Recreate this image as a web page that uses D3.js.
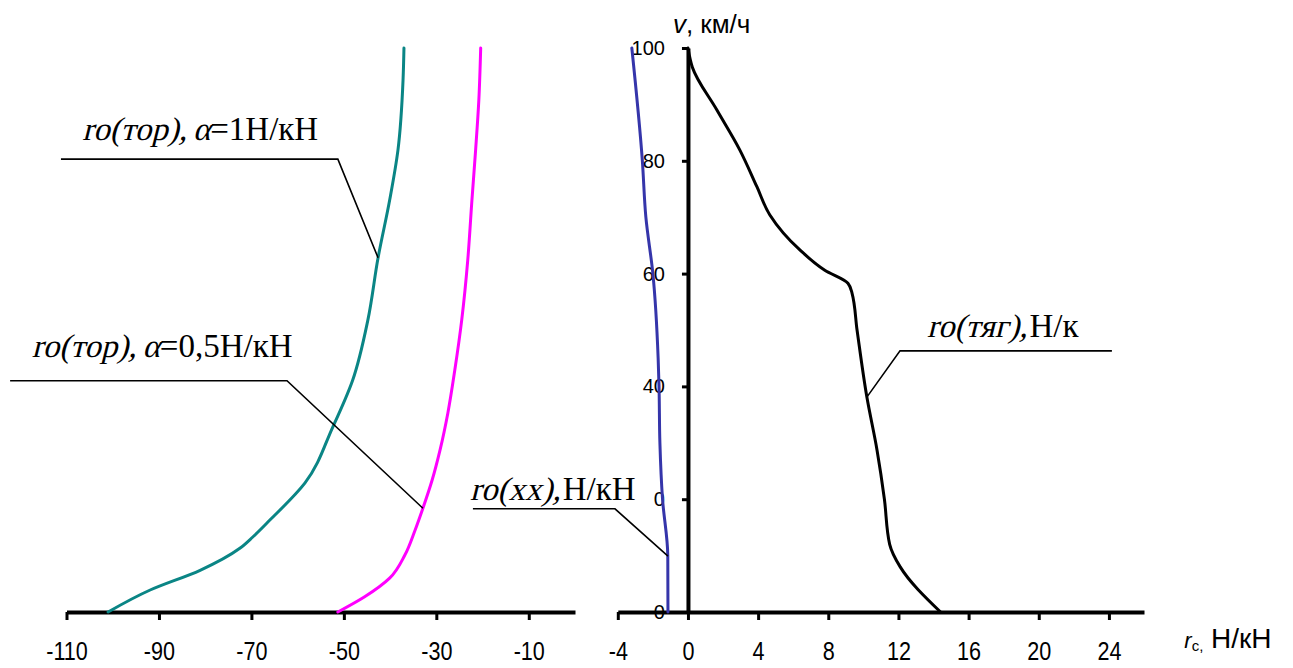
<!DOCTYPE html>
<html><head><meta charset="utf-8">
<script src="https://cdn.jsdelivr.net/npm/d3@7/dist/d3.min.js"></script>
<style>
html,body{margin:0;padding:0;background:#fff;}
svg{display:block;}
</style></head>
<body>
<svg id="chart" width="1293" height="668"></svg>
<script>
// ---------- data ----------
const leftTicks = [-110, -90, -70, -50, -30, -10];
const rightTicks = [-4, 0, 4, 8, 12, 16, 20, 24];
const yTicks = [0, 20, 40, 60, 80, 100];
const yTickLabels = ["0", "0", "40", "60", "80", "100"];

// ro(тор), α=1 Н/кН  (teal)
const torA1Speed = [0, 3.9, 7.4, 11.3, 13.3, 16.3, 22.9, 32.8, 41.1, 51.8, 62.8, 73, 81.9, 94.3, 100];
const torA1R     = [-101, -91.9, -81.1, -72.5, -69.7, -66.0, -58.4, -52.4, -48.1, -44.8, -42.6, -40.1, -38.3, -37.2, -37.0];

// ro(тор), α=0,5 Н/кН  (magenta)
const torA05Speed = [0, 2.7, 6.0, 10.1, 14.5, 18.4, 23.4, 28.7, 35.3, 42.9, 51.8, 62.4, 73, 81.9, 90.8, 100];
const torA05R     = [-51.3, -45.5, -40.1, -36.8, -34.6, -32.9, -30.9, -29.2, -27.5, -26.0, -24.5, -23.2, -22.3, -21.5, -20.8, -20.4];

// ro(xx), Н/кН  (blue)
const xxSpeed = [0, 10, 20, 30, 40, 45, 60, 70, 80, 100];
const xxR     = [-1.14, -1.15, -1.45, -1.6, -1.65, -1.7, -2.0, -2.4, -2.6, -3.2];

// ro(тяг), Н/кН  (black)
const tyagSpeed = [0, 8, 12, 20, 28.7, 38.1, 50, 56.6, 58.3, 60.6, 64.2, 70.4, 75.4, 81.9, 89.0, 96.6, 100];
const tyagR     = [14.4, 12.1, 11.5, 11.2, 10.78, 10.2, 9.64, 9.35, 9.12, 7.8, 6.38, 4.67, 3.93, 2.96, 1.65, 0.25, 0];

// ---------- layout ----------
const svg = d3.select("#chart");
const xLeft = d3.scaleLinear().domain([-110, 0]).range([66.5, 575]);
const xRight = d3.scaleLinear().domain([-4, 26]).range([617.8, 1144]);
const y = d3.scaleLinear().domain([0, 100]).range([612, 48]);

const sans = "'Liberation Sans', Arial, sans-serif";
const serif = "'Liberation Serif', 'Times New Roman', serif";

function styleAxis(g) {
  g.select(".domain").attr("stroke", "#000").attr("stroke-width", 4);
  g.selectAll(".tick line").attr("stroke", "#000").attr("stroke-width", 3);
  g.selectAll(".tick text").attr("fill", "#000").attr("font-family", sans);
}
function styleXLabels(g) {
  g.selectAll(".tick text")
    .attr("font-size", 24)
    .attr("dy", 0)
    .attr("y", 48 / 1.1)
    .attr("transform", "scale(0.9,1.1)");
}

// left x axis
const gL = svg.append("g").attr("transform", `translate(0,${y(0)})`)
  .call(d3.axisBottom(xLeft).tickValues(leftTicks).tickSize(8).tickSizeOuter(0)
    .tickFormat(d => String(d)));
styleAxis(gL);
styleXLabels(gL);

// right x axis
const gR = svg.append("g").attr("transform", `translate(0,${y(0)})`)
  .call(d3.axisBottom(xRight).tickValues(rightTicks).tickSize(8).tickSizeOuter(0)
    .tickFormat(d => String(d)));
styleAxis(gR);
styleXLabels(gR);

// y axis at r = 0
const gY = svg.append("g").attr("transform", `translate(${xRight(0)},0)`)
  .call(d3.axisLeft(y).tickValues(yTicks).tickSize(6).tickSizeOuter(0).tickPadding(17)
    .tickFormat((d, i) => yTickLabels[i]));
styleAxis(gY);
gY.selectAll(".tick text").attr("font-size", 20);

// ---------- curves ----------
function drawSeries(xs, speeds, rs, color, width) {
  const pts = speeds.map((v, i) => [rs[i], v]);
  const line = d3.line().x(d => xs(d[0])).y(d => y(d[1])).curve(d3.curveMonotoneY);
  svg.append("path").datum(pts).attr("d", line)
    .attr("fill", "none").attr("stroke", color).attr("stroke-width", width)
    .attr("stroke-linejoin", "round").attr("stroke-linecap", "round");
}
drawSeries(xLeft, torA1Speed, torA1R, "#0a8585", 3);
drawSeries(xLeft, torA05Speed, torA05R, "#ff00ff", 3);
drawSeries(xRight, xxSpeed, xxR, "#3535aa", 3);
drawSeries(xRight, tyagSpeed, tyagR, "#000000", 3);

// ---------- callouts ----------
function callout(xs, pts) {
  const line = d3.line().x(d => xs(d[0])).y(d => y(d[1]));
  svg.append("path").datum(pts).attr("d", line)
    .attr("fill", "none").attr("stroke", "#000").attr("stroke-width", 1.6);
}
callout(xLeft, [[-111.2, 80.3], [-51.3, 80.3], [-42.6, 62.8]]);
callout(xLeft, [[-122.2, 41], [-62.3, 41], [-32.9, 18.4]]);
callout(xRight, [[-12.26, 18.3], [-4.16, 18.3], [-1.14, 9.9]]);
callout(xRight, [[10.2, 38.1], [12.09, 46.3], [24.17, 46.3]]);

// labels: italic parts drawn as slanted serif text (no serif italic face installed)
function label(xs, r, v, parts, size) {
  let cx = xs(r);
  const by = y(v);
  parts.forEach(p => {
    const t = svg.append("text")
      .attr("transform", p.italic ? `translate(${cx},${by}) skewX(-14)` : `translate(${cx},${by})`)
      .attr("font-family", serif).attr("font-size", size).attr("fill", "#000")
      .text(p.t);
    cx += t.node().getComputedTextLength() + (p.gap || 0);
  });
}
label(xLeft, -106.6, 83.7, [{t: "ro(тор),", italic: true, gap: 6}, {t: "α", italic: true}, {t: "=1Н/кН"}], 33);
label(xLeft, -117.5, 45.2, [{t: "ro(тор),", italic: true, gap: 6}, {t: "α", italic: true}, {t: "=0,5Н/кН"}], 33);
label(xRight, -12.43, 19.9, [{t: "ro(xx),", italic: true, gap: 2}, {t: "Н/кН"}], 33);
label(xRight, 13.63, 48.8, [{t: "ro(тяг),", italic: true, gap: 2}, {t: "Н/к"}], 33);

// axis titles
const yt = svg.append("text").attr("x", xRight(-0.86)).attr("y", y(102.6))
  .attr("font-family", sans).attr("font-size", 26).attr("fill", "#000");
yt.append("tspan").attr("font-style", "italic").text("v");
yt.append("tspan").text(", км/ч");

const xt = svg.append("text").attr("x", xRight(28.3)).attr("y", y(-6.4))
  .attr("font-family", sans).attr("fill", "#000");
xt.append("tspan").attr("font-style", "italic").attr("font-size", 22).text("r");
xt.append("tspan").attr("font-size", 15).attr("dy", 3).text("c,");
xt.append("tspan").attr("font-size", 28).attr("dy", -3).text(" Н/кН");
</script>
</body></html>
